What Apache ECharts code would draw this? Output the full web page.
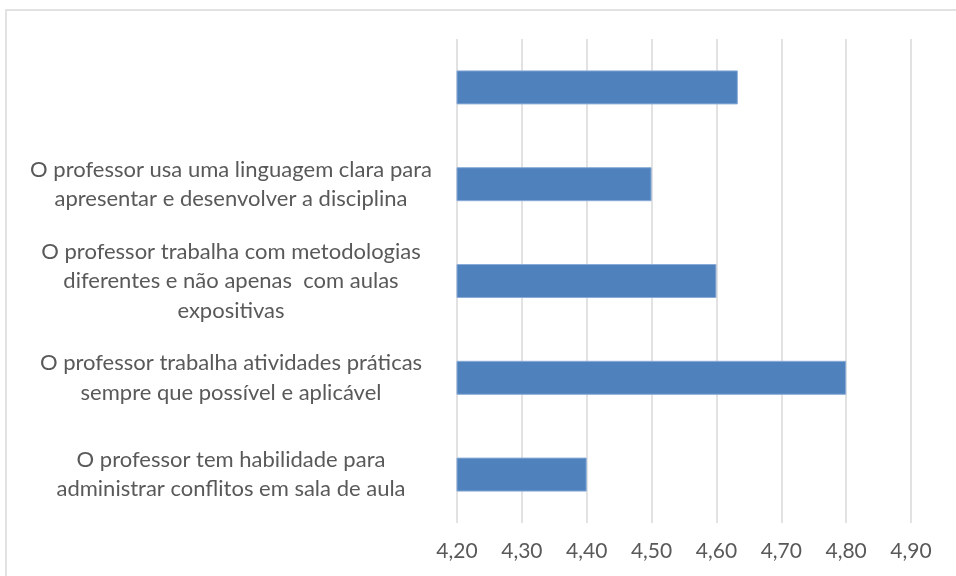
<!DOCTYPE html>
<html>
<head>
<meta charset="utf-8">
<script src="https://cdn.jsdelivr.net/npm/echarts@6/dist/echarts.min.js"></script>
<style>
  html, body { margin: 0; padding: 0; background: #fff; }
  #myChart { width: 956px; height: 576px; }
</style>
</head>
<body>
<div id="myChart"></div>
<script>
// categories, bottom to top (category axis starts at the bottom)
var categories = [
  'O professor tem habilidade para\nadministrar conflitos em sala de aula',
  'O professor trabalha atividades práticas\nsempre que possível e aplicável',
  'O professor trabalha com metodologias\ndiferentes e não apenas  com aulas\nexpositivas',
  'O professor usa uma linguagem clara para\napresentar e desenvolver a disciplina',
  ''
];
// average scores
var values = [4.40, 4.80, 4.60, 4.50, 4.633];
// x axis range
var axisMin = 4.2;
var axisMax = 4.9;
var axisStep = 0.1;

var myChart = echarts.init(document.getElementById('myChart'));

myChart.setOption({
  animation: false,
  textStyle: { fontFamily: 'Lato' },
  graphic: [{
    type: 'rect',
    shape: { x: 6, y: 10, width: 1000, height: 620 },
    style: { fill: 'none', stroke: '#d9d9d9', lineWidth: 1.5 }
  }],
  grid: { left: 457, right: 45, top: 39, bottom: 53 },
  xAxis: {
    type: 'value',
    min: axisMin,
    max: axisMax,
    interval: axisStep,
    axisLine: { show: false },
    axisTick: { show: false },
    splitLine: { lineStyle: { color: '#d9d9d9', width: 1.5 } },
    axisLabel: {
      color: '#595959',
      fontSize: 21,
      margin: 18,
      formatter: function (v) { return v.toFixed(2).replace('.', ','); }
    }
  },
  yAxis: {
    type: 'category',
    data: categories,
    axisLine: { show: false },
    axisTick: { show: false },
    axisLabel: {
      color: '#595959',
      fontSize: 22,
      lineHeight: 29.5,
      align: 'center',
      margin: 226
    }
  },
  series: [{
    type: 'bar',
    data: values,
    barWidth: 34,
    itemStyle: {
      color: '#4f81bd',
      borderColor: '#8aabd8',
      borderWidth: 1
    }
  }]
});
</script>
</body>
</html>
